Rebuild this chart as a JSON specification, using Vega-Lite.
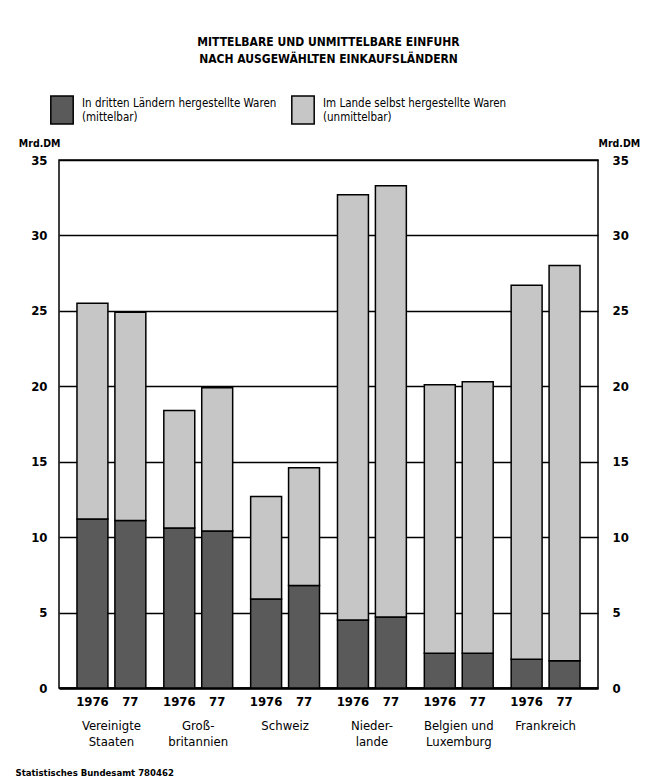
{
  "$schema": "https://vega.github.io/schema/vega-lite/v6.json",
  "width": 539,
  "height": 528,
  "autosize": {"type": "none"},
  "padding": {"left": 59, "top": 160, "right": 50, "bottom": 90},
  "background": "white",
  "config": {
    "font": "Liberation Sans Narrow, DejaVu Sans Condensed, Roboto, sans-serif",
    "view": {"stroke": "black", "strokeWidth": 1.5}
  },
  "title": {
    "text": ["MITTELBARE UND UNMITTELBARE EINFUHR", "NACH AUSGEWÄHLTEN EINKAUFSLÄNDERN"],
    "fontSize": 12,
    "fontWeight": "bold",
    "lineHeight": 17,
    "offset": 29,
    "anchor": "middle",
    "color": "black"
  },
  "data": {
    "values": [
      {"country": "Vereinigte Staaten", "year": "1976", "type": "In dritten Ländern hergestellte Waren (mittelbar)", "value": 11.2},
      {"country": "Vereinigte Staaten", "year": "1976", "type": "Im Lande selbst hergestellte Waren (unmittelbar)", "value": 14.3},
      {"country": "Vereinigte Staaten", "year": "77", "type": "In dritten Ländern hergestellte Waren (mittelbar)", "value": 11.1},
      {"country": "Vereinigte Staaten", "year": "77", "type": "Im Lande selbst hergestellte Waren (unmittelbar)", "value": 13.8},
      {"country": "Großbritannien", "year": "1976", "type": "In dritten Ländern hergestellte Waren (mittelbar)", "value": 10.6},
      {"country": "Großbritannien", "year": "1976", "type": "Im Lande selbst hergestellte Waren (unmittelbar)", "value": 7.8},
      {"country": "Großbritannien", "year": "77", "type": "In dritten Ländern hergestellte Waren (mittelbar)", "value": 10.4},
      {"country": "Großbritannien", "year": "77", "type": "Im Lande selbst hergestellte Waren (unmittelbar)", "value": 9.5},
      {"country": "Schweiz", "year": "1976", "type": "In dritten Ländern hergestellte Waren (mittelbar)", "value": 5.9},
      {"country": "Schweiz", "year": "1976", "type": "Im Lande selbst hergestellte Waren (unmittelbar)", "value": 6.8},
      {"country": "Schweiz", "year": "77", "type": "In dritten Ländern hergestellte Waren (mittelbar)", "value": 6.8},
      {"country": "Schweiz", "year": "77", "type": "Im Lande selbst hergestellte Waren (unmittelbar)", "value": 7.8},
      {"country": "Niederlande", "year": "1976", "type": "In dritten Ländern hergestellte Waren (mittelbar)", "value": 4.5},
      {"country": "Niederlande", "year": "1976", "type": "Im Lande selbst hergestellte Waren (unmittelbar)", "value": 28.2},
      {"country": "Niederlande", "year": "77", "type": "In dritten Ländern hergestellte Waren (mittelbar)", "value": 4.7},
      {"country": "Niederlande", "year": "77", "type": "Im Lande selbst hergestellte Waren (unmittelbar)", "value": 28.6},
      {"country": "Belgien und Luxemburg", "year": "1976", "type": "In dritten Ländern hergestellte Waren (mittelbar)", "value": 2.3},
      {"country": "Belgien und Luxemburg", "year": "1976", "type": "Im Lande selbst hergestellte Waren (unmittelbar)", "value": 17.8},
      {"country": "Belgien und Luxemburg", "year": "77", "type": "In dritten Ländern hergestellte Waren (mittelbar)", "value": 2.3},
      {"country": "Belgien und Luxemburg", "year": "77", "type": "Im Lande selbst hergestellte Waren (unmittelbar)", "value": 18.0},
      {"country": "Frankreich", "year": "1976", "type": "In dritten Ländern hergestellte Waren (mittelbar)", "value": 1.9},
      {"country": "Frankreich", "year": "1976", "type": "Im Lande selbst hergestellte Waren (unmittelbar)", "value": 24.8},
      {"country": "Frankreich", "year": "77", "type": "In dritten Ländern hergestellte Waren (mittelbar)", "value": 1.8},
      {"country": "Frankreich", "year": "77", "type": "Im Lande selbst hergestellte Waren (unmittelbar)", "value": 26.2}
    ]
  },
  "layer": [
    {
      "mark": {"type": "bar", "stroke": "black", "strokeWidth": 1.5},
      "encoding": {
        "x": {
          "field": "country",
          "type": "nominal",
          "sort": ["Vereinigte Staaten", "Großbritannien", "Schweiz", "Niederlande", "Belgien und Luxemburg", "Frankreich"],
          "scale": {"paddingInner": 0.207, "paddingOuter": 0.207},
          "axis": {
            "domain": true,
            "domainColor": "black",
            "domainWidth": 2.5,
            "ticks": false,
            "labelAngle": 0,
            "labelPadding": 31,
            "labelFontSize": 13,
            "labelColor": "black",
            "labelLineHeight": 16,
            "labelExpr": "datum.label == 'Vereinigte Staaten' ? ['Vereinigte', 'Staaten'] : datum.label == 'Großbritannien' ? ['Groß-', 'britannien'] : datum.label == 'Niederlande' ? ['Nieder-', 'lande'] : datum.label == 'Belgien und Luxemburg' ? ['Belgien und', 'Luxemburg'] : datum.label",
            "title": "Statistisches Bundesamt 780462",
            "titleFontSize": 9.5,
            "titleFontWeight": "bold",
            "titleColor": "black",
            "titleAnchor": "start",
            "titleAlign": "left",
            "titleBaseline": "middle",
            "titleX": -44,
            "titleY": 84
          }
        },
        "xOffset": {"field": "year", "type": "nominal", "sort": ["1976", "77"], "scale": {"paddingInner": 0.184, "paddingOuter": 0}},
        "y": {
          "field": "value",
          "type": "quantitative",
          "stack": "zero",
          "scale": {"domain": [0, 35], "nice": false},
          "axis": {
            "orient": "left",
            "values": [0, 5, 10, 15, 20, 25, 30, 35],
            "grid": true,
            "gridColor": "black",
            "gridWidth": 1.3,
            "gridOpacity": 1,
            "domain": false,
            "ticks": false,
            "labelPadding": 12,
            "labelFontSize": 13,
            "labelFontWeight": "bold",
            "labelColor": "black",
            "title": "Mrd.DM",
            "titleAngle": 0,
            "titleAlign": "right",
            "titleBaseline": "middle",
            "titleX": 1,
            "titleY": -17,
            "titleFontSize": 10.5,
            "titleFontWeight": "bold",
            "titleColor": "black"
          }
        },
        "color": {
          "field": "type",
          "type": "nominal",
          "scale": {
            "domain": ["In dritten Ländern hergestellte Waren (mittelbar)", "Im Lande selbst hergestellte Waren (unmittelbar)"],
            "range": ["#5a5a5a", "#c6c6c6"]
          },
          "legend": {
            "orient": "none",
            "legendX": -12,
            "legendY": -65,
            "direction": "horizontal",
            "columns": 2,
            "columnPadding": 11,
            "title": null,
            "symbolType": "M-0.8,-1L0.8,-1L0.8,1L-0.8,1Z",
            "symbolSize": 784,
            "symbolStrokeColor": "black",
            "symbolStrokeWidth": 1.5,
            "labelFontSize": 11.5,
            "labelLimit": 300,
            "labelColor": "black",
            "labelOffset": 5,
            "labelBaseline": "line-bottom",
            "labelLineHeight": 16,
            "labelExpr": "[slice(datum.label, 0, indexof(datum.label, ' (')), slice(datum.label, indexof(datum.label, ' (') + 1)]"
          }
        },
        "order": {"field": "type", "sort": "descending"}
      }
    },
    {
      "transform": [{"filter": "datum.type == 'In dritten Ländern hergestellte Waren (mittelbar)'"}],
      "mark": {"type": "text", "fontWeight": "bold", "fontSize": 13, "baseline": "middle", "dy": 14, "color": "black"},
      "encoding": {
        "x": {
          "field": "country",
          "type": "nominal",
          "sort": ["Vereinigte Staaten", "Großbritannien", "Schweiz", "Niederlande", "Belgien und Luxemburg", "Frankreich"]
        },
        "xOffset": {"field": "year", "type": "nominal", "sort": ["1976", "77"]},
        "y": {
          "datum": 0,
          "type": "quantitative",
          "scale": {"domain": [0, 35], "nice": false},
          "axis": {
            "orient": "right",
            "values": [0, 5, 10, 15, 20, 25, 30, 35],
            "grid": false,
            "domain": false,
            "ticks": false,
            "labelPadding": 14,
            "labelFontSize": 13,
            "labelFontWeight": "bold",
            "labelColor": "black",
            "title": "Mrd.DM",
            "titleAngle": 0,
            "titleAlign": "left",
            "titleBaseline": "middle",
            "titleX": 0,
            "titleY": -17,
            "titleFontSize": 10.5,
            "titleFontWeight": "bold",
            "titleColor": "black"
          }
        },
        "text": {"field": "year"}
      }
    }
  ],
  "resolve": {"axis": {"y": "independent"}}
}
